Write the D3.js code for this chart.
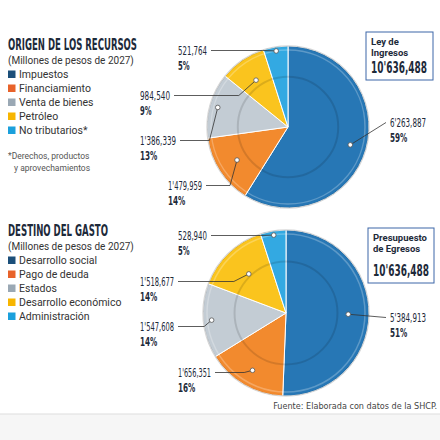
<!DOCTYPE html>
<html><head><meta charset="utf-8">
<script src="https://cdn.jsdelivr.net/npm/d3@7.9.0/dist/d3.min.js"></script>
<style>body{margin:0;background:#fff}svg{display:block}</style>
</head><body><svg id="chart" width="440" height="440"></svg>
<script>
// Data
const origenCats = ['Impuestos', 'Financiamiento', 'Venta de bienes', 'Petróleo', 'No tributarios*'];
const origenVals = [6263887, 1479959, 1386339, 984540, 521764];
const origenLabels = ["6'263,887", "1'479,959", "1'386,339", '984,540', '521,764'];
const origenPct = ['59%', '14%', '13%', '9%', '5%'];

const destinoCats = ['Desarrollo social', 'Pago de deuda', 'Estados', 'Desarrollo económico', 'Administración'];
const destinoVals = [5384913, 1656351, 1547608, 1518677, 528940];
const destinoLabels = ["5'384,913", "1'656,351", "1'547,608", "1'518,677", '528,940'];
const destinoPct = ['51%', '16%', '14%', '14%', '5%'];

const sliceColors = ['#2777b5', '#f28a2e', '#c3ccd4', '#fac41e', '#33a9e2'];
const legendColors = ['#1b4f7a', '#e8622a', '#9aa8b4', '#f7b500', '#1ba0dc'];

const svg = d3.select('#chart');
svg.append('rect').attr('y', 414).attr('width', 440).attr('height', 26).attr('fill', '#f6f6f6');
svg.append('line').attr('x1', 0).attr('x2', 440).attr('y1', 414).attr('y2', 414).attr('stroke', '#ddd');

const condensed = "'DejaVu Sans Condensed', 'DejaVu Sans'";
const dark = '#1d2a3a';

function panel(o) {
  const g = svg.append('g');
  g.append('text').attr('x', 8).attr('y', o.titleY).text(o.title)
    .attr('font-family', condensed).attr('font-weight', 'bold').attr('font-size', 16)
    .attr('fill', dark).attr('textLength', o.titleW).attr('lengthAdjust', 'spacingAndGlyphs');
  g.append('text').attr('x', 8).attr('y', o.titleY + 14).text('(Millones de pesos de 2027)')
    .attr('font-family', 'Roboto').attr('font-size', 10).attr('fill', '#333');
  o.cats.forEach((c, i) => {
    const y = o.titleY + 28 + i * 14;
    g.append('rect').attr('x', 8).attr('y', y - 7.5).attr('width', 7.5).attr('height', 7.5).attr('fill', legendColors[i]);
    g.append('text').attr('x', 19).attr('y', y).text(c)
      .attr('font-family', 'Roboto').attr('font-size', 10.5).attr('fill', '#333');
  });

  const pie = d3.pie().sort(null).value(d => d)(o.vals);
  const arc = d3.arc().innerRadius(0).outerRadius(o.r);
  const pg = g.append('g').attr('transform', `translate(${o.cx},${o.cy})`);
  pg.selectAll('path').data(pie).join('path')
    .attr('d', arc).attr('fill', (d, i) => sliceColors[i])
    .attr('stroke', '#fff').attr('stroke-width', 1);
  // coin rings
  pg.append('circle').attr('r', o.r * 0.62).attr('fill', 'none').attr('stroke', '#000').attr('stroke-opacity', 0.12).attr('stroke-width', 2);
  pg.append('circle').attr('r', o.r - 4).attr('fill', 'none').attr('stroke', '#fff').attr('stroke-opacity', 0.25).attr('stroke-width', 1.5);
  pg.append('circle').attr('r', o.r).attr('fill', 'none').attr('stroke', '#000').attr('stroke-opacity', 0.15).attr('stroke-width', 1.5);

  pie.forEach((d, i) => {
    const a = (d.startAngle + d.endAngle) / 2;
    const rr = o.r * o.dotR[i];
    const dx = o.cx + rr * Math.sin(a), dy = o.cy - rr * Math.cos(a);
    const [lx, ly] = o.labelPos[i];
    const right = i === 0;
    const tx = right ? lx : lx + o.labelW[i];
    const yl = ly - 4.5;
    g.append('polyline')
      .attr('points', right ? `${dx},${dy} ${lx - 4},${yl}` : `${tx + 4},${yl} ${dx - (dx - tx) * 0.2},${yl} ${dx},${dy}`)
      .attr('fill', 'none').attr('stroke', '#333').attr('stroke-width', 0.8);
    g.append('circle').attr('cx', dx).attr('cy', dy).attr('r', 2.3)
      .attr('fill', '#fff').attr('stroke', '#555').attr('stroke-width', 0.8);
    g.append('text').attr('x', lx).attr('y', ly).text(o.labels[i])
      .attr('font-family', condensed).attr('font-size', 12).attr('fill', dark)
      .attr('textLength', o.labelW[i]).attr('lengthAdjust', 'spacingAndGlyphs');
    g.append('text').attr('x', lx).attr('y', ly + 15).text(o.pct[i])
      .attr('font-family', condensed).attr('font-weight', 'bold').attr('font-size', 12.5).attr('fill', dark)
      .attr('textLength', o.pct[i].length * 5.8).attr('lengthAdjust', 'spacingAndGlyphs');
  });

  const b = o.box;
  g.append('rect').attr('x', b[0]).attr('y', b[1]).attr('width', b[2]).attr('height', b[3])
    .attr('fill', '#fff').attr('stroke', '#3c67a8').attr('stroke-width', 1);
  o.boxLines.forEach((t, i) => {
    g.append('text').attr('x', b[0] + 5).attr('y', b[1] + 13 + i * 11).text(t)
      .attr('font-family', 'Roboto').attr('font-weight', 'bold').attr('font-size', 9.5).attr('fill', dark);
  });
  g.append('text').attr('x', b[0] + 5).attr('y', b[1] + b[3] - 7).text("10'636,488")
    .attr('font-family', condensed).attr('font-weight', 'bold').attr('font-size', 15).attr('fill', dark)
    .attr('textLength', 56).attr('lengthAdjust', 'spacingAndGlyphs');
}

panel({
  title: 'ORIGEN DE LOS RECURSOS', titleY: 50, titleW: 129,
  cats: origenCats, vals: origenVals, labels: origenLabels, pct: origenPct,
  cx: 288, cy: 127, r: 81,
  dotR: [0.8, 0.75, 0.9, 0.7, 0.95],
  labelPos: [[390, 127], [168, 190], [140, 145], [140, 100], [178, 55]],
  labelW: [36, 34, 36, 30, 29],
  box: [366, 32, 67, 48], boxLines: ['Ley de', 'Ingresos']
});
panel({
  title: 'DESTINO DEL GASTO', titleY: 236, titleW: 100,
  cats: destinoCats, vals: destinoVals, labels: destinoLabels, pct: destinoPct,
  cx: 286, cy: 313, r: 83,
  dotR: [0.75, 0.8, 0.9, 0.65, 0.95],
  labelPos: [[390, 322], [178, 377], [140, 331], [140, 286], [178, 240]],
  labelW: [36, 33, 34, 34, 29],
  box: [368, 228, 66, 55], boxLines: ['Presupuesto', 'de Egresos']
});

svg.append('text').attr('x', 8).attr('y', 159).text('*Derechos, productos')
  .attr('font-family', 'Roboto').attr('font-size', 8.5).attr('fill', '#555');
svg.append('text').attr('x', 14).attr('y', 171).text('y aprovechamientos')
  .attr('font-family', 'Roboto').attr('font-size', 8.5).attr('fill', '#555');
svg.append('text').attr('x', 437).attr('y', 409).attr('text-anchor', 'end')
  .text('Fuente: Elaborada con datos de la SHCP.')
  .attr('font-family', condensed).attr('font-size', 9).attr('fill', '#444');
</script></body></html>
